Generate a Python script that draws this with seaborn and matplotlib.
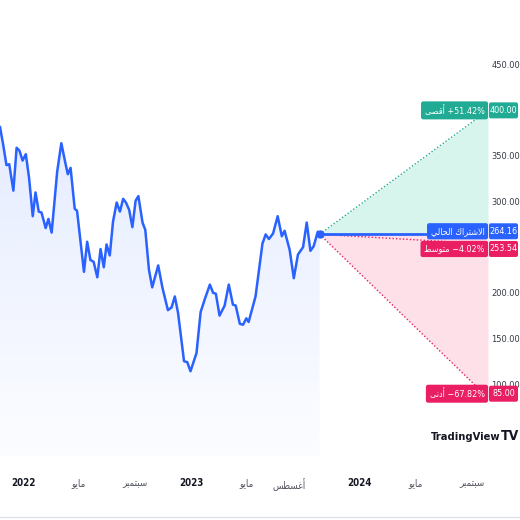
import numpy as np
import pandas as pd
import matplotlib
matplotlib.use("Agg")
import matplotlib.pyplot as plt
import matplotlib.dates as mdates
import matplotlib.transforms as mtransforms
from matplotlib.colors import to_rgb
from matplotlib.patches import FancyBboxPatch
from matplotlib.lines import Line2D
import seaborn as sns

# weekly-ish closes
hist_dates = [
    "2021-11-12", "2021-11-19", "2021-11-26", "2021-12-02", "2021-12-11",
    "2021-12-18", "2021-12-24", "2021-12-31", "2022-01-07", "2022-01-14",
    "2022-01-22", "2022-01-28", "2022-02-04", "2022-02-10", "2022-02-19",
    "2022-02-25", "2022-03-04", "2022-03-16", "2022-03-25", "2022-04-02",
    "2022-04-08", "2022-04-14", "2022-04-23", "2022-04-28", "2022-05-13",
    "2022-05-20", "2022-05-27", "2022-06-03", "2022-06-11", "2022-06-18",
    "2022-06-25", "2022-07-01", "2022-07-08", "2022-07-15", "2022-07-23",
    "2022-07-30", "2022-08-06", "2022-08-12", "2022-08-19", "2022-08-26",
    "2022-09-02", "2022-09-08", "2022-09-17", "2022-09-23", "2022-10-01",
    "2022-10-08", "2022-10-21", "2022-10-30", "2022-11-11", "2022-11-19",
    "2022-11-26", "2022-12-03", "2022-12-16", "2022-12-23", "2022-12-30",
    "2023-01-12", "2023-01-21", "2023-01-30", "2023-02-10", "2023-02-17",
    "2023-02-23", "2023-03-03", "2023-03-14", "2023-03-23", "2023-04-01",
    "2023-04-07", "2023-04-16", "2023-04-23", "2023-04-30", "2023-05-05",
    "2023-05-20", "2023-06-04", "2023-06-11", "2023-06-18", "2023-06-27",
    "2023-07-07", "2023-07-16", "2023-07-22", "2023-08-02", "2023-08-11",
    "2023-08-20", "2023-08-31", "2023-09-08", "2023-09-16", "2023-09-23",
    "2023-10-02", "2023-10-06",
]
hist_prices = [
    382, 362, 340, 341, 312, 359, 356, 345, 352, 326,
    284, 310, 289, 288, 271, 281, 266, 333, 364, 344,
    330, 337, 292, 290, 223, 256, 236, 234, 217, 248,
    228, 253, 241, 278, 299, 289, 303, 299, 291, 272,
    301, 306, 277, 269, 225, 206, 230, 206, 181, 184,
    196, 178, 125, 124, 114, 134, 179, 193, 209, 200,
    199, 175, 186, 209, 187, 186, 166, 165, 172, 168,
    196, 254, 264, 259, 265, 284, 262, 268, 247, 216,
    242, 250, 277, 246, 251, 267, 264.16,
]

# one-year analyst forecast
forecast_max = 400.00
forecast_avg = 253.54
forecast_min = 85.00
forecast_days = 365

x_tick_dates = ["2022-01-01", "2022-05-01", "2022-09-01", "2023-01-01", "2023-05-01",
                "2023-08-01", "2024-01-01", "2024-05-01", "2024-09-01"]
x_tick_labels = ["2022", "مايو", "سبتمبر", "2023", "مايو", "أغسطس", "2024", "مايو", "سبتمبر"]
y_ticks = [100, 150, 200, 250, 300, 350, 400, 450]

label_current = "الاشتراك الحالي"
label_max = "أقصى"
label_avg = "متوسط"
label_min = "أدنى"

BLUE = "#2962ff"
GREEN = "#22ab94"
RED = "#e91e63"
TEXT = "#131722"

# matplotlib does no arabic joining or bidi, so map letters to presentation forms
DUAL = {"ب": 0xFE8F, "ت": 0xFE95, "ح": 0xFEA1, "س": 0xFEB1, "ش": 0xFEB5, "ص": 0xFEB9,
        "ط": 0xFEC1, "غ": 0xFECD, "ق": 0xFED5, "ك": 0xFED9, "ل": 0xFEDD, "م": 0xFEE1,
        "ن": 0xFEE5, "ي": 0xFEF1}
RIGHT = {"ا": 0xFE8D, "أ": 0xFE83, "د": 0xFEA9, "ر": 0xFEAD, "و": 0xFEED, "ى": 0xFEEF}
LAM_ALEF = {"ا": 0xFEFB, "أ": 0xFEF7}


def has_arabic(s):
    return any("\u0600" <= c <= "\u06ff" for c in s)


def shape_word(word):
    if not has_arabic(word):
        return word
    units = []
    i = 0
    while i < len(word):
        c = word[i]
        if c == "ل" and i + 1 < len(word) and word[i + 1] in LAM_ALEF:
            units.append(("la", word[i + 1]))
            i += 2
        else:
            units.append(c)
            i += 1
    out = []
    for k, u in enumerate(units):
        prev = units[k - 1] if k > 0 else None
        nxt = units[k + 1] if k + 1 < len(units) else None
        jp = isinstance(prev, str) and prev in DUAL
        jn = nxt is not None and (isinstance(nxt, tuple) or nxt in DUAL or nxt in RIGHT)
        if isinstance(u, tuple):
            out.append(chr(LAM_ALEF[u[1]] + int(jp)))
        elif u in DUAL:
            off = 3 if (jp and jn) else 1 if jp else 2 if jn else 0
            out.append(chr(DUAL[u] + off))
        elif u in RIGHT:
            out.append(chr(RIGHT[u] + int(jp)))
        else:
            out.append(u)
    return "".join(reversed(out))


def ar(text):
    return " ".join(shape_word(w) for w in reversed(text.split()))


def tag_transform(fig, ax, yval, dy):
    # pixel offsets measured from the right edge of the pane at price yval
    blend = mtransforms.blended_transform_factory(ax.transAxes, ax.transData)
    return (mtransforms.Affine2D().translate(0, dy).scale(1 / fig.dpi)
            + fig.dpi_scale_trans + mtransforms.ScaledTranslation(1.0, yval, blend))


def price_tag(fig, ax, yval, dy, color, label):
    tr = tag_transform(fig, ax, yval, dy)
    fig.add_artist(FancyBboxPatch((1, -8), 29, 16, boxstyle="round,pad=0,rounding_size=2",
                                  fc=color, ec="none", transform=tr, zorder=7))
    fig.text(15.5, 0, f"{yval:.2f}", transform=tr, ha="center", va="center",
             color="white", fontsize=6.5, zorder=8)
    fig.text(-3.5, 0, label, transform=tr, ha="right", va="center", color="white",
             fontsize=6.5, zorder=8,
             bbox=dict(boxstyle="round,pad=0.4,rounding_size=0.25", fc=color, ec="none"))


def main():
    sns.set_theme(style="white")
    plt.rcParams["font.family"] = ["DejaVu Sans"]
    plt.rcParams["font.stretch"] = "condensed"

    df = pd.DataFrame({"date": pd.to_datetime(hist_dates), "price": hist_prices})
    last_date = df["date"].iloc[-1]
    last_price = df["price"].iloc[-1]
    end_date = last_date + pd.Timedelta(days=forecast_days)

    fig = plt.figure(figsize=(5.2, 5.2), dpi=100)
    ax = fig.add_axes([0, 63 / 520, 488 / 520, 457 / 520])

    sns.lineplot(data=df, x="date", y="price", ax=ax, color=BLUE, linewidth=1.8, zorder=4)

    # gradient area under the price line
    ybot = 20
    grad = np.zeros((256, 1, 4))
    grad[..., :3] = to_rgb(BLUE)
    grad[..., 3] = np.linspace(0.12, 0.015, 256)[:, None]
    xs = mdates.date2num(df["date"])
    im = ax.imshow(grad, extent=[xs[0], xs[-1], ybot, df["price"].max()],
                   origin="upper", aspect="auto", zorder=1)
    area = ax.fill_between(xs, df["price"], ybot, color="none", lw=0)
    im.set_clip_path(area.get_paths()[0], transform=ax.transData)

    # forecast cone
    fx = [last_date, end_date]
    ax.fill_between(fx, [last_price] * 2, [last_price, forecast_max], color="#d7f4ed", lw=0, zorder=2)
    ax.fill_between(fx, [last_price] * 2, [last_price, forecast_min], color="#fde0e8", lw=0, zorder=2)
    ax.plot(fx, [last_price, forecast_max], color=GREEN, lw=1, ls=(0, (1, 1.5)), zorder=3)
    ax.plot(fx, [last_price, forecast_min], color=RED, lw=1, ls=(0, (1, 1.5)), zorder=3)
    ax.plot(fx, [last_price, forecast_avg], color=RED, lw=1, ls=(0, (1, 1.5)), zorder=3)
    ax.plot(fx, [last_price] * 2, color=BLUE, lw=2, zorder=4)
    ax.plot([last_date], [last_price], "o", color=BLUE, ms=5, zorder=5)

    ax.set_xlim(df["date"].iloc[0], end_date)
    ax.set_ylim(ybot, 521)
    for s in ax.spines.values():
        s.set_visible(False)
    ax.set_xlabel("")
    ax.set_ylabel("")

    ax.set_xticks(pd.to_datetime(x_tick_dates))
    ax.set_xticklabels([ar(t) for t in x_tick_labels])
    ax.tick_params(axis="x", length=0, pad=15, labelsize=7)
    for lbl in ax.get_xticklabels():
        if lbl.get_text().isdigit():
            lbl.set_fontweight("bold")
            lbl.set_color(TEXT)
        else:
            lbl.set_color("#50535e")

    # price scale: the tags cover the ticks that sit right under them
    tags = [forecast_max, last_price, forecast_avg, forecast_min]
    shown = [v for v in y_ticks if min(abs(v - t) for t in tags) > 10]
    ax.yaxis.tick_right()
    ax.set_yticks(shown)
    ax.set_yticklabels([f"{v:.2f}" for v in shown])
    ax.tick_params(axis="y", length=0, pad=2.5, labelsize=6.7, labelcolor="#363a45")

    def pct(v):
        p = (v / last_price - 1) * 100
        return f"+{p:.2f}%" if p >= 0 else f"\u2212{abs(p):.2f}%"

    price_tag(fig, ax, forecast_max, 0, GREEN, f"{ar(label_max)} {pct(forecast_max)}")
    price_tag(fig, ax, last_price, 3, BLUE, ar(label_current))
    price_tag(fig, ax, forecast_avg, -5, RED, f"{ar(label_avg)} {pct(forecast_avg)}")
    price_tag(fig, ax, forecast_min, 4, RED, f"{ar(label_min)} {pct(forecast_min)}")

    # watermark
    fig.text(431 / 520, 1 - 437 / 520, "TradingView", fontsize=8, fontweight="bold",
             color=TEXT, ha="left", va="center")
    fig.text(519 / 520, 1 - 436 / 520, "TV", fontsize=10, fontweight="heavy",
             color=TEXT, ha="right", va="center")

    fig.add_artist(Line2D([0, 1], [3 / 520, 3 / 520], transform=fig.transFigure,
                          color="#e0e3eb", lw=1))

    fig.savefig("out.png", dpi=100, facecolor="white")


if __name__ == "__main__":
    main()
